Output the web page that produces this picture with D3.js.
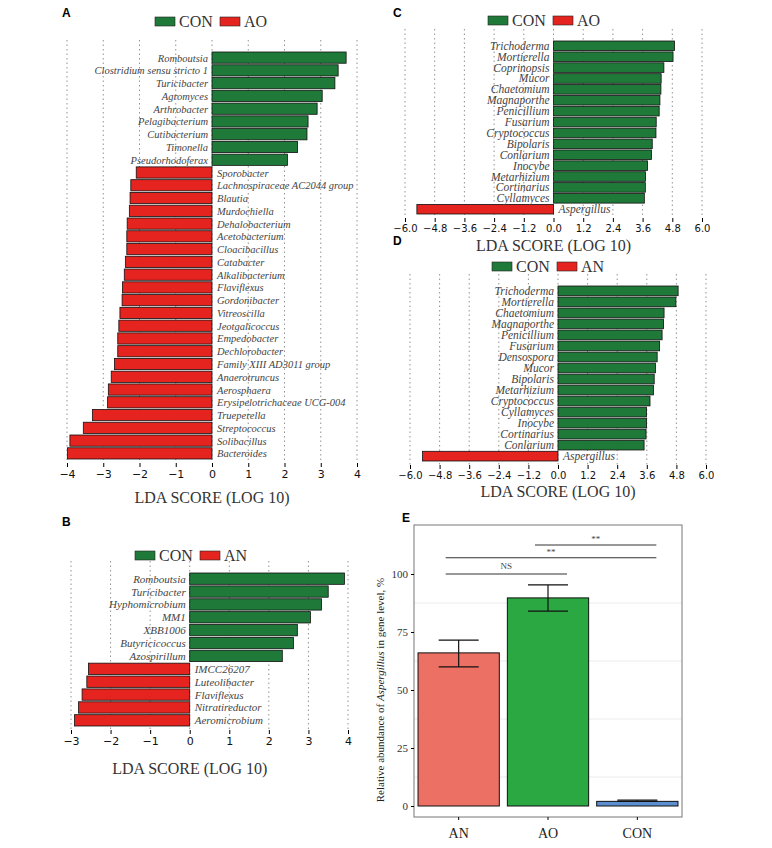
<!DOCTYPE html>
<html><head><meta charset="utf-8">
<script src="https://cdn.jsdelivr.net/npm/d3@7"></script>
<style>body{margin:0;background:#fff}svg{display:block}</style>
</head><body><svg id="fig" width="772" height="848"></svg>
<script>
// panel A: CON vs AO (bacteria)
const aNames = ["Romboutsia","Clostridium sensu stricto 1","Turicibacter","Agromyces","Arthrobacter","Pelagibacterium","Cutibacterium","Timonella","Pseudorhodoferax",
  "Sporobacter","Lachnospiraceae AC2044 group","Blautia","Murdochiella","Dehalobacterium","Acetobacterium","Cloacibacillus","Catabacter","Alkalibacterium","Flaviflexus","Gordonibacter","Vitreoscilla","Jeotgalicoccus","Empedobacter","Dechlorobacter","Family XIII AD3011 group","Anaerotruncus","Aerosphaera","Erysipelotrichaceae UCG-004","Trueperella","Streptococcus","Solibacillus","Bacteroides"];
const aScores = [3.70,3.48,3.39,3.04,2.90,2.65,2.62,2.36,2.08,
  -2.09,-2.24,-2.26,-2.28,-2.34,-2.35,-2.35,-2.39,-2.42,-2.47,-2.48,-2.54,-2.57,-2.60,-2.60,-2.69,-2.78,-2.86,-2.88,-3.30,-3.55,-3.92,-3.99];
const aTicks = [-4,-3,-2,-1,0,1,2,3,4];
// panel B: CON vs AN (bacteria)
const bNames = ["Romboutsia","Turicibacter","Hyphomicrobium","MM1","XBB1006","Butyricicoccus","Azospirillum","IMCC26207","Luteolibacter","Flaviflexus","Nitratireductor","Aeromicrobium"];
const bScores = [3.91,3.50,3.33,3.05,2.72,2.62,2.34,-2.56,-2.60,-2.72,-2.81,-2.91];
const bTicks = [-3,-2,-1,0,1,2,3,4];
// panel C: CON vs AO (fungi)
const cNames = ["Trichoderma","Mortierella","Coprinopsis","Mucor","Chaetomium","Magnaporthe","Penicillium","Fusarium","Cryptococcus","Bipolaris","Conlarium","Inocybe","Metarhizium","Cortinarius","Cyllamyces","Aspergillus"];
const cScores = [4.89,4.83,4.46,4.35,4.34,4.30,4.27,4.15,4.14,3.99,3.96,3.80,3.72,3.71,3.67,-5.52];
// panel D: CON vs AN (fungi)
const dNames = ["Trichoderma","Mortierella","Chaetomium","Magnaporthe","Penicillium","Fusarium","Densospora","Mucor","Bipolaris","Metarhizium","Cryptococcus","Cyllamyces","Inocybe","Cortinarius","Conlarium","Aspergillus"];
const dScores = [4.87,4.78,4.30,4.28,4.22,4.12,4.02,3.95,3.90,3.87,3.73,3.59,3.59,3.57,3.49,-5.49];
const fungiTicks = [-6,-4.8,-3.6,-2.4,-1.2,0,1.2,2.4,3.6,4.8,6];
// panel E: relative abundance of Aspergillus
const eGroups = ["AN","AO","CON"];
const eMeans = [66, 89.7, 2];
const eLow = [60, 84, 2];
const eHigh = [71.5, 95.3, 2.5];
const eTicks = [0,25,50,75,100];

const svg = d3.select("#fig");
const GREEN = "#1f7a3a", RED = "#e5231f";
const serif = "Liberation Serif, Times New Roman, serif";

function panelLabel(t, x, y) {
  svg.append("text").attr("x", x).attr("y", y).text(t)
    .attr("font-family", "Liberation Sans, Arial, sans-serif").attr("font-weight", "bold").attr("font-size", 12);
}

function legend(cx, y, other) {
  const g = svg.append("g").attr("transform", `translate(${cx - 60},${y})`);
  g.append("rect").attr("x", 0).attr("y", -5).attr("width", 20).attr("height", 9).attr("fill", GREEN).attr("stroke", "#222").attr("stroke-width", 0.6);
  g.append("text").attr("x", 24).attr("y", 5).text("CON").attr("font-family", serif).attr("font-size", 16).attr("fill", "#333");
  g.append("rect").attr("x", 65).attr("y", -5).attr("width", 20).attr("height", 9).attr("fill", RED).attr("stroke", "#222").attr("stroke-width", 0.6);
  g.append("text").attr("x", 89).attr("y", 5).text(other).attr("font-family", serif).attr("font-size", 16).attr("fill", "#333");
}

function lefse(o) {
  const x = d3.scaleLinear().domain([o.ticks[0], o.ticks[o.ticks.length - 1]]).range([o.x0, o.x1]);
  const y = d3.scaleBand().domain(o.names).range([o.y0, o.y1]).paddingInner(0.12);
  const g = svg.append("g");
  g.selectAll(".grid").data(o.ticks).enter().append("line")
    .attr("x1", d => x(d)).attr("x2", d => x(d)).attr("y1", o.y0 - 12).attr("y2", o.y1 + 4)
    .attr("stroke", "#777").attr("stroke-width", 0.8).attr("stroke-dasharray", "1.5,3");
  g.selectAll(".bar").data(o.names).enter().append("rect")
    .attr("x", (d, i) => x(Math.min(0, o.scores[i])))
    .attr("width", (d, i) => Math.abs(x(o.scores[i]) - x(0)))
    .attr("y", d => y(d)).attr("height", y.bandwidth())
    .attr("fill", (d, i) => o.scores[i] > 0 ? GREEN : RED)
    .attr("stroke", "#111").attr("stroke-width", 0.8);
  g.selectAll(".lab").data(o.names).enter().append("text")
    .attr("x", (d, i) => o.scores[i] > 0 ? x(0) - 4 : x(0) + 5)
    .attr("y", d => y(d) + y.bandwidth() / 2 + 4)
    .attr("text-anchor", (d, i) => o.scores[i] > 0 ? "end" : "start")
    .attr("font-family", serif).attr("font-style", "italic").attr("font-size", o.fs).attr("fill", "#444")
    .text(d => d);
  const ax = g.append("g").attr("transform", `translate(0,${o.y1 + 4})`)
    .call(d3.axisBottom(x).tickValues(o.ticks).tickSize(4).tickFormat(o.fmt));
  ax.select(".domain").remove();
  ax.selectAll("text").attr("font-family", "DejaVu Sans, sans-serif").attr("font-size", o.tfs).attr("fill", "#111");
  g.append("text").attr("x", x(0)).attr("y", o.titleY).attr("text-anchor", "middle")
    .attr("font-family", serif).attr("font-size", o.titleFs).attr("fill", "#333").text("LDA SCORE (LOG 10)");
}

panelLabel("A", 62, 17);
legend(215, 22, "AO");
lefse({names: aNames, scores: aScores, ticks: aTicks, x0: 67, x1: 357, y0: 52, y1: 459, fs: 10.5, tfs: 11, fmt: d3.format("d"), titleY: 503, titleFs: 16});

panelLabel("B", 62, 526);
legend(195, 556, "AN");
lefse({names: bNames, scores: bScores, ticks: bTicks, x0: 71, x1: 348, y0: 573, y1: 726, fs: 11, tfs: 11, fmt: d3.format("d"), titleY: 774, titleFs: 16});

panelLabel("C", 393, 17);
legend(548, 21, "AO");
lefse({names: cNames, scores: cScores, ticks: fungiTicks, x0: 405, x1: 702, y0: 41, y1: 214, fs: 11.5, tfs: 10, fmt: d3.format(".1f"), titleY: 251, titleFs: 16});

panelLabel("D", 393, 245);
legend(552, 267, "AN");
lefse({names: dNames, scores: dScores, ticks: fungiTicks, x0: 410, x1: 706, y0: 286, y1: 461, fs: 11.5, tfs: 10, fmt: d3.format(".1f"), titleY: 497, titleFs: 16});

// panel E
panelLabel("E", 402, 522);
const ex = d3.scaleBand().domain(eGroups).range([414, 682]).paddingInner(0.09).paddingOuter(0.045);
const ey = d3.scaleLinear().domain([0, 100]).range([806, 574]);
const eg = svg.append("g");
[12.5, 37.5, 62.5, 87.5].forEach(v => eg.append("line").attr("x1", 414).attr("x2", 682).attr("y1", ey(v)).attr("y2", ey(v)).attr("stroke", "#ececec"));
const fills = ["#ec7063", "#2ca843", "#5b8fd0"];
eg.selectAll(".eb").data(eGroups).enter().append("rect")
  .attr("x", d => ex(d)).attr("width", ex.bandwidth())
  .attr("y", (d, i) => ey(eMeans[i])).attr("height", (d, i) => ey(0) - ey(eMeans[i]))
  .attr("fill", (d, i) => fills[i]).attr("stroke", "#111").attr("stroke-width", 1);
eGroups.forEach((d, i) => {
  const cx = ex(d) + ex.bandwidth() / 2;
  eg.append("line").attr("x1", cx).attr("x2", cx).attr("y1", ey(eHigh[i])).attr("y2", ey(eLow[i])).attr("stroke", "#111").attr("stroke-width", 1.2);
  [eHigh[i], eLow[i]].forEach(v => eg.append("line").attr("x1", cx - 20).attr("x2", cx + 20).attr("y1", ey(v)).attr("y2", ey(v)).attr("stroke", "#111").attr("stroke-width", 1.2));
});
eg.append("rect").attr("x", 414).attr("y", 525).attr("width", 268).attr("height", 292).attr("fill", "none").attr("stroke", "#777").attr("stroke-width", 1);
const ay = eg.append("g").attr("transform", "translate(414,0)").call(d3.axisLeft(ey).tickValues(eTicks).tickSize(3));
ay.select(".domain").remove();
ay.selectAll("text").attr("font-family", serif).attr("font-size", 11).attr("fill", "#333");
const axb = eg.append("g").attr("transform", "translate(0,817)").call(d3.axisBottom(ex).tickSize(3).tickSizeOuter(0));
axb.select(".domain").remove();
axb.selectAll("text").attr("font-family", serif).attr("font-size", 14).attr("fill", "#222").attr("dy", "1.1em");
const yt = eg.append("text").attr("transform", "translate(384,690) rotate(-90)").attr("text-anchor", "middle")
  .attr("font-family", serif).attr("font-size", 11).attr("fill", "#222");
yt.append("tspan").text("Relative abundance of ");
yt.append("tspan").attr("font-style", "italic").text("Aspergillus");
yt.append("tspan").text(" in gene level, %");
// significance brackets
const sigs = [{a: 0, b: 1, v: 100, t: "NS", dy: -5}, {a: 0, b: 2, v: 107, t: "**", dy: -3}, {a: 1, b: 2, v: 112.5, t: "**", dy: -3}];
sigs.forEach(s => {
  const x1 = ex(eGroups[s.a]) + ex.bandwidth() / 2 - 13, x2 = ex(eGroups[s.b]) + ex.bandwidth() / 2 + 19;
  eg.append("line").attr("x1", x1).attr("x2", x2).attr("y1", ey(s.v)).attr("y2", ey(s.v)).attr("stroke", "#333");
  eg.append("text").attr("x", (x1 + x2) / 2).attr("y", ey(s.v) + s.dy).attr("text-anchor", "middle")
    .attr("font-family", serif).attr("font-size", 9).attr("fill", "#444").text(s.t);
});
</script></body></html>
